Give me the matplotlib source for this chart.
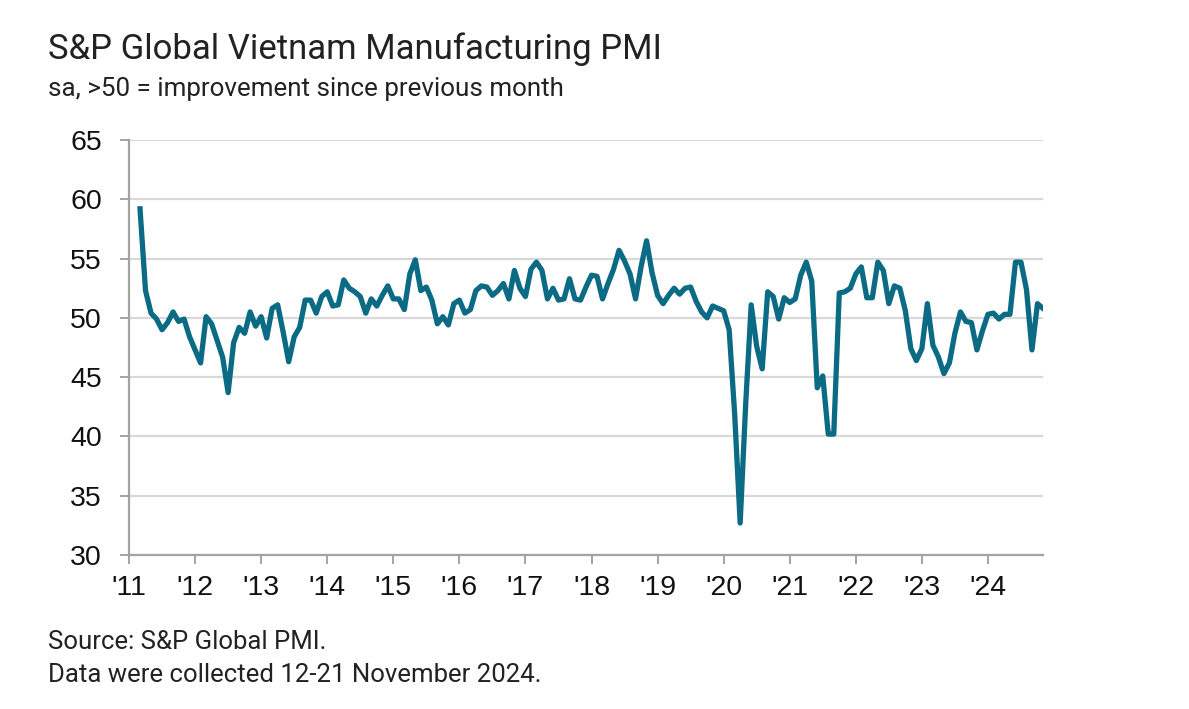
import numpy as np
import matplotlib
matplotlib.use('Agg')
import matplotlib.pyplot as plt

# Monthly PMI readings, Mar 2011 - Nov 2024
pmi_2011 = [59.2, 52.3, 50.4, 49.9, 49.0, 49.6, 50.5, 49.7, 49.9, 48.4]
pmi_2012 = [47.3, 46.2, 50.1, 49.5, 48.1, 46.7, 43.7, 47.9, 49.2, 48.7, 50.5, 49.3]
pmi_2013 = [50.1, 48.3, 50.8, 51.1, 48.8, 46.3, 48.4, 49.2, 51.5, 51.5, 50.4, 51.8]
pmi_2014 = [52.2, 51.0, 51.1, 53.2, 52.5, 52.2, 51.8, 50.4, 51.6, 51.0, 51.9, 52.7]
pmi_2015 = [51.6, 51.6, 50.7, 53.7, 54.9, 52.3, 52.6, 51.5, 49.5, 50.1, 49.4, 51.2]
pmi_2016 = [51.5, 50.4, 50.7, 52.3, 52.7, 52.6, 51.9, 52.3, 52.9, 51.6, 54.0, 52.5]
pmi_2017 = [51.8, 54.1, 54.7, 54.0, 51.6, 52.5, 51.5, 51.6, 53.3, 51.6, 51.5, 52.6]
pmi_2018 = [53.6, 53.5, 51.6, 52.9, 54.1, 55.7, 54.8, 53.7, 51.6, 54.3, 56.5, 53.8]
pmi_2019 = [51.9, 51.2, 51.9, 52.5, 52.0, 52.5, 52.6, 51.4, 50.5, 50.0, 51.0, 50.8]
pmi_2020 = [50.6, 49.0, 41.9, 32.7, 42.7, 51.1, 47.6, 45.7, 52.2, 51.8, 49.9, 51.7]
pmi_2021 = [51.3, 51.6, 53.6, 54.7, 53.1, 44.1, 45.1, 40.2, 40.2, 52.1, 52.2, 52.5]
pmi_2022 = [53.7, 54.3, 51.7, 51.7, 54.7, 54.0, 51.2, 52.7, 52.5, 50.6, 47.4, 46.4]
pmi_2023 = [47.4, 51.2, 47.7, 46.7, 45.3, 46.2, 48.7, 50.5, 49.7, 49.6, 47.3, 48.9]
pmi_2024 = [50.3, 50.4, 49.9, 50.3, 50.3, 54.7, 54.7, 52.4, 47.3, 51.2, 50.8]

year_labels = ["'11", "'12", "'13", "'14", "'15", "'16", "'17", "'18", "'19",
               "'20", "'21", "'22", "'23", "'24"]
y_ticks = [30, 35, 40, 45, 50, 55, 60, 65]

values = (pmi_2011 + pmi_2012 + pmi_2013 + pmi_2014 + pmi_2015 + pmi_2016 + pmi_2017
          + pmi_2018 + pmi_2019 + pmi_2020 + pmi_2021 + pmi_2022 + pmi_2023 + pmi_2024)
# first reading is March 2011 -> month index 2
x = 2011 + (np.arange(len(values)) + 2) / 12

line_color = '#0b6a84'
grey_axis = '#a3a3a3'
text_color = '#222222'

fig = plt.figure(figsize=(11.89, 7.09), dpi=100)
ax = fig.add_axes([0.1085, 0.2172, 0.7687, 0.5853])

ax.plot(x, values, color=line_color, lw=3.8, solid_joinstyle='round', zorder=3)

ax.set_xlim(2011, 2011 + 166 / 12)
ax.set_ylim(30, 65)
ax.set_yticks(y_ticks)
ax.set_xticks(np.arange(2011, 2025))
ax.set_xticklabels(year_labels)

ax.grid(axis='y', color='#d9d9d9', lw=1.6, zorder=0)
for s in ['top', 'right']:
    ax.spines[s].set_visible(False)
for s in ['left', 'bottom']:
    ax.spines[s].set_color(grey_axis)
    ax.spines[s].set_linewidth(1.6)

ax.tick_params(axis='both', colors=grey_axis, length=6.5, width=1.4,
               labelcolor='#111111', labelsize=20.5)
ax.tick_params(axis='y', pad=13)
ax.tick_params(axis='x', pad=8)
for lab in ax.get_xticklabels() + ax.get_yticklabels():
    lab.set_fontfamily('Liberation Sans')

fig.text(0.0405, 0.930, 'S&P Global Vietnam Manufacturing PMI', fontsize=25,
         family='Roboto', color=text_color, va='center')
fig.text(0.0405, 0.874, 'sa, >50 = improvement since previous month', fontsize=18.7,
         family='Roboto', color=text_color, va='center')
fig.text(0.0405, 0.0945, 'Source: S&P Global PMI.', fontsize=18.5,
         family='Roboto', color=text_color, va='center')
fig.text(0.0405, 0.048, 'Data were collected 12-21 November 2024.', fontsize=18.5,
         family='Roboto', color=text_color, va='center')

fig.savefig('out.png', dpi=100)
